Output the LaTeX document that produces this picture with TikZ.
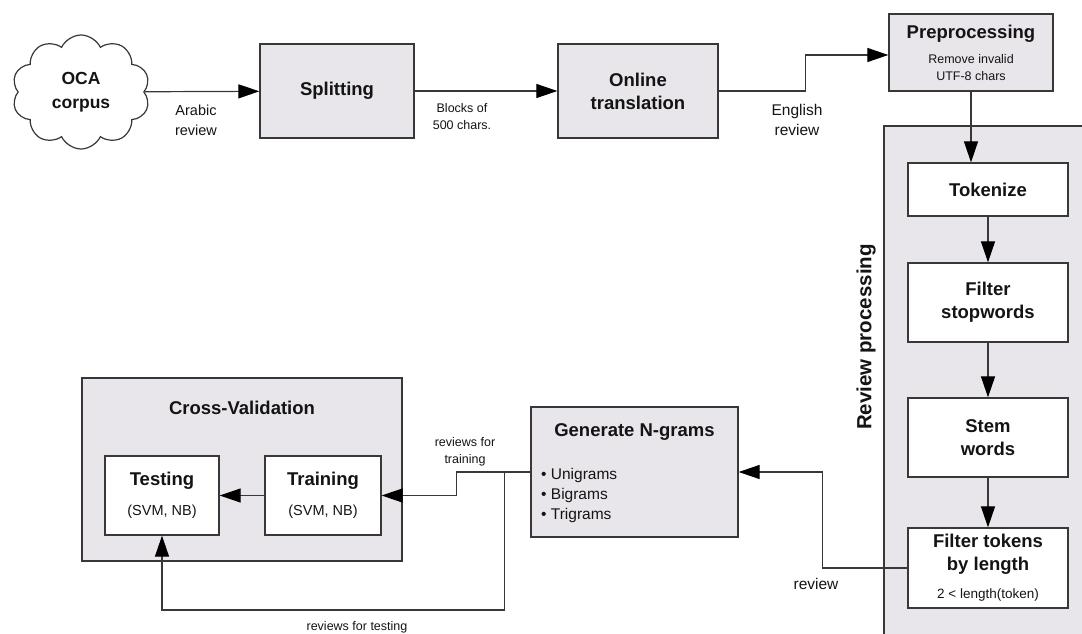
\documentclass[tikz,border=0pt]{standalone}
\usepackage{fontspec}
\setmainfont{Liberation Sans}
\usetikzlibrary{arrows.meta,shapes.symbols,calc}
\definecolor{boxgray}{HTML}{E8E6EA}
\definecolor{linec}{HTML}{383838}
\definecolor{txtc}{HTML}{141414}
\newcommand\fT{\fontsize{18.5}{23}\selectfont\bfseries}
\newcommand\fS{\fontsize{12.5}{17}\selectfont\mdseries}
\newcommand\fM{\fontsize{14.5}{20}\selectfont\mdseries}
\newcommand\fN{\fontsize{13.5}{18}\selectfont\mdseries}
\newcommand\fL{\fontsize{15.5}{20}\selectfont\mdseries}
\newcommand\fR{\fontsize{20.5}{24}\selectfont\bfseries}
\begin{document}
\begin{tikzpicture}[x=1pt,y=-1pt,
  box/.style={draw=linec,line width=1.3pt,fill=boxgray,inner sep=0pt,align=center,text=txtc},
  wbox/.style={box,fill=white},
  arr/.style={draw=linec,line width=1.2pt,-{Triangle[length=21pt,width=14pt,color=black]}},
  lnk/.style={draw=linec,line width=1.2pt},
  lbl/.style={align=center,text=txtc,inner sep=0pt}]
\useasboundingbox (0,0) rectangle (1082,634);
\fill[white] (0,0) rectangle (1082,634);

% Review processing container
\fill[boxgray] (884,126) rectangle (1082,634);
\draw[lnk,line width=1.3pt] (1082,126) -- (884,126) -- (884,634);
\node[lbl,rotate=90,font=\fR] (lRP) at (866,337) {Review processing};

% top row
\node[cloud,draw=linec,line width=1.2pt,fill=white,cloud puffs=10,cloud puff arc=130,
      aspect=1.2,minimum width=138pt,minimum height=114pt,inner sep=0pt,align=center,
      text=txtc,font=\fontsize{17.5}{24}\selectfont\bfseries] (oca) at (81,92) {OCA\\corpus};
\node[box,minimum width=154pt,minimum height=94pt,font=\fT] (split) at (337,91) {Splitting};
\node[box,minimum width=160pt,minimum height=94pt,font=\fT] (online) at (638,91) {Online\\translation};
\node[box,minimum width=164pt,minimum height=77pt,font=\fS] (prep) at (971,52.5)
  {{\fT Preprocessing}\\[8pt]Remove invalid\\UTF-8 chars};

% review processing steps
\node[wbox,minimum width=160pt,minimum height=53pt,font=\fT] (tok) at (988,189.5) {Tokenize};
\node[wbox,minimum width=160pt,minimum height=79pt,font=\fT] (fsw) at (988,302.5) {Filter\\stopwords};
\node[wbox,minimum width=160pt,minimum height=79pt,font=\fT] (stem) at (988,437.5) {Stem\\words};
\node[wbox,minimum width=160pt,minimum height=80pt,font=\fT] (ftl) at (988,568)
  {Filter tokens\\by length\\[5pt]{\fN 2 < length(token)}};

% N-grams
\node[box,minimum width=207pt,minimum height=130pt] (ngram) at (634.5,472) {};
\node[lbl,font=\fT] (ngT) at (634.5,432) {Generate N-grams};
\node[lbl,align=left,anchor=west,font=\fL] (ngB) at (541,495)
  {\textbullet\ Unigrams\\\textbullet\ Bigrams\\\textbullet\ Trigrams};

% Cross-validation
\node[box,minimum width=320pt,minimum height=183pt] (cv) at (242,469.5) {};
\node[lbl,font=\fT] (cvT) at (242,408) {Cross-Validation};
\node[wbox,minimum width=114pt,minimum height=79pt,font=\fT] (test) at (162,495.5)
  {Testing\\[7pt]{\fM (SVM, NB)}};
\node[wbox,minimum width=116pt,minimum height=79pt,font=\fT] (train) at (323,495.5)
  {Training\\[7pt]{\fM (SVM, NB)}};

% connectors
\draw[arr] (oca) -- (split);
\draw[arr] (split) -- (online);
\draw[arr] (online.east) -- ++(87,0) |- ([yshift=-2.5pt]prep.west);
\draw[arr] (prep.south) -- (prep.south |- tok.north);
\draw[arr] (tok) -- (fsw);
\draw[arr] (fsw) -- (stem);
\draw[arr] (stem) -- (ftl);
\draw[arr] (ftl.west) -- ++(-85,0) |- (ngram.east);
\coordinate (br) at ($(ngram.west)+(-26,0)$);
\draw[lnk] (ngram.west) -- (br);
\draw[arr] (br) -- ++(-48,0) |- (train.east);
\draw[arr] (br) -- ++(0,138) -| (test.south);
\draw[arr] (train) -- (test);

% labels
\node[lbl,font=\fM] (lArabic) at (196,120) {Arabic\\review};
\node[lbl,font=\fS] (lBlocks) at (462,116.5) {Blocks of\\500 chars.};
\node[lbl,font=\fL] (lEnglish) at (797,120) {English\\review};
\node[lbl,font=\fL] (lReview) at (816,584) {review};
\node[lbl,font=\fS] (lTrain) at (465,451.5) {reviews for\\training};
\node[lbl,font=\fS] (lTest) at (357,627) {reviews for testing};
\end{tikzpicture}
\end{document}
